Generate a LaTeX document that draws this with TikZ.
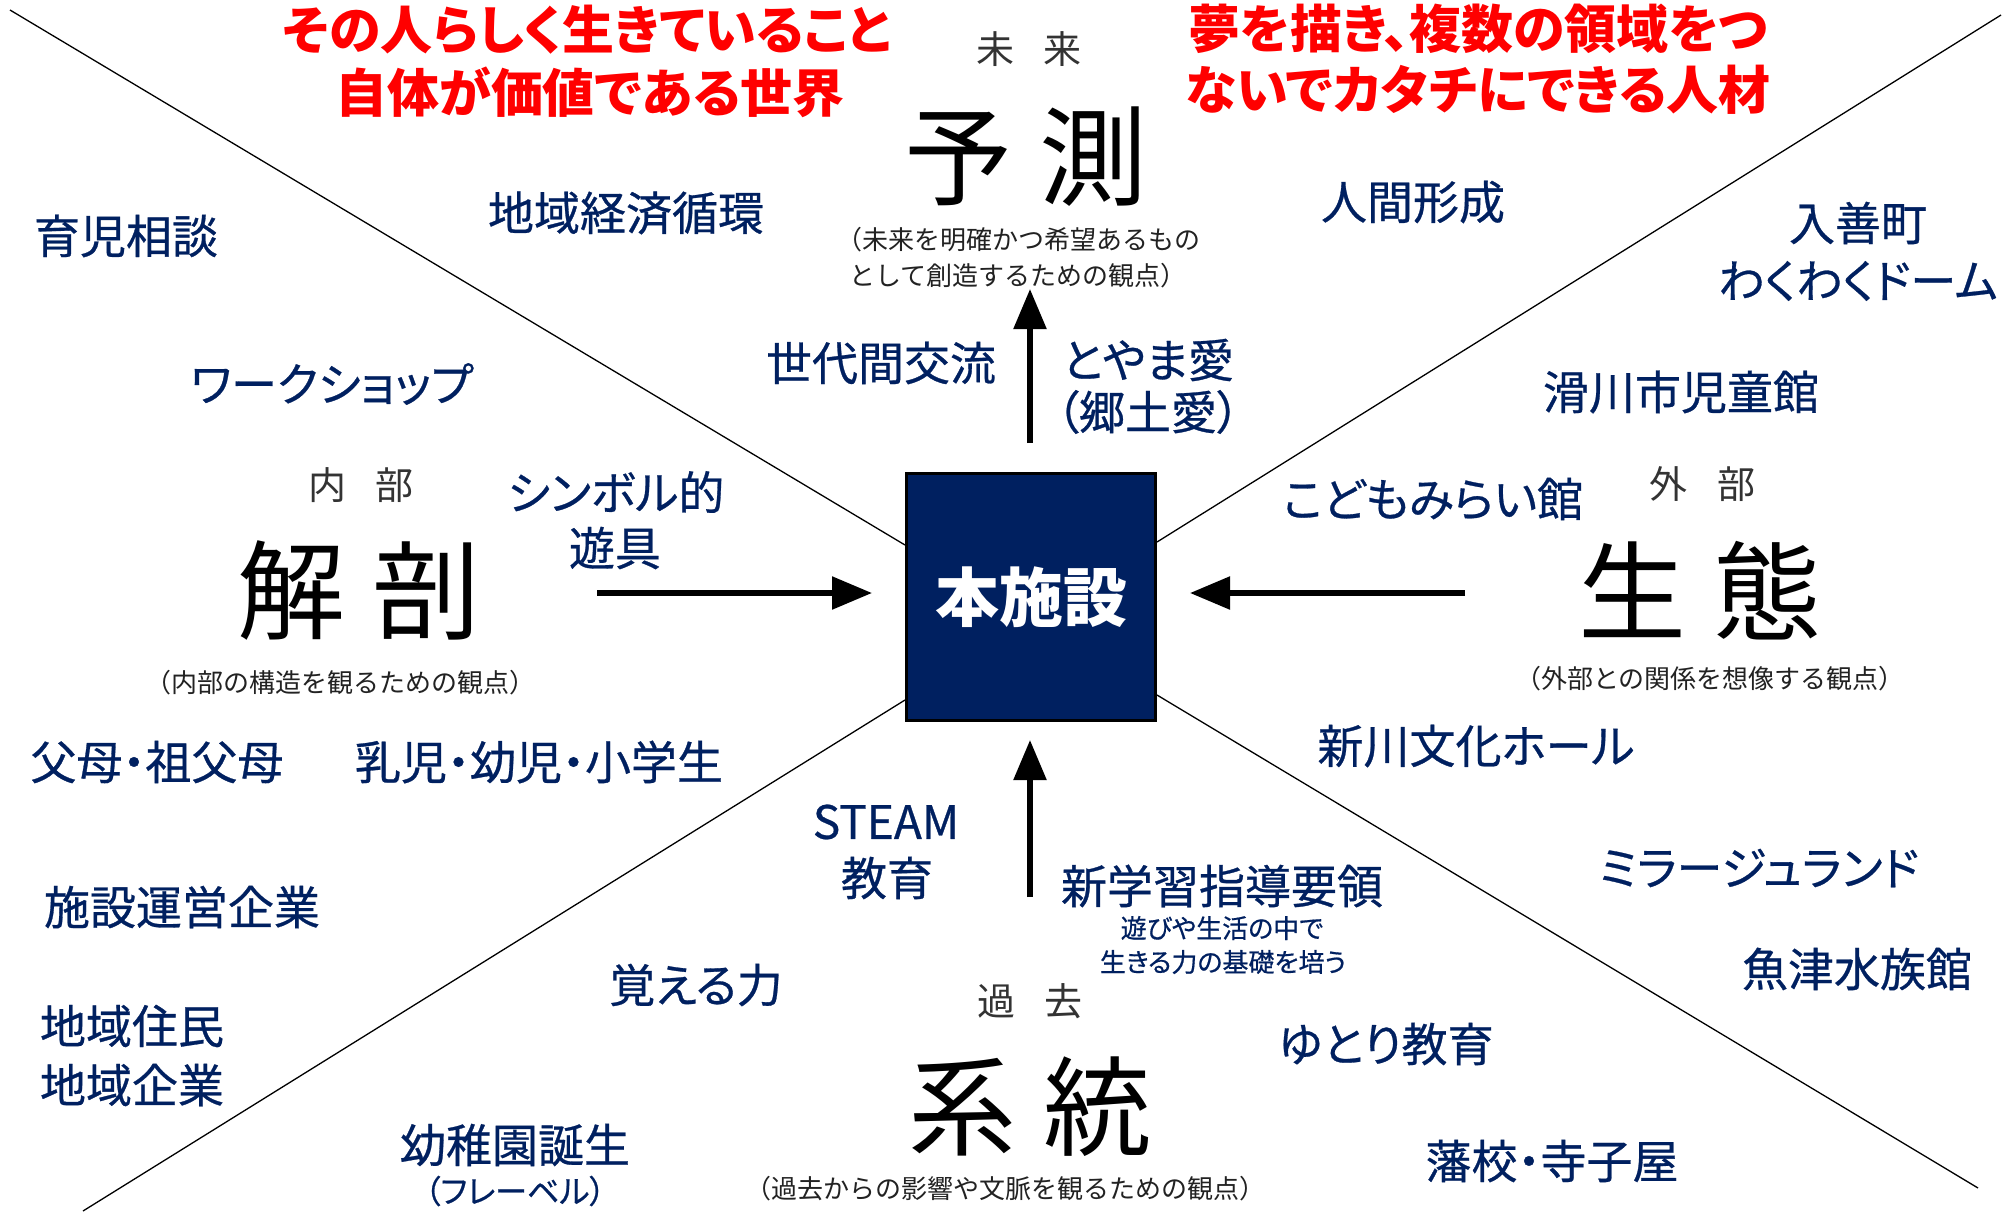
\documentclass[tikz,border=0pt]{standalone}
\usepackage{fontspec}
\newfontfamily\jp{Noto Sans CJK JP}
\newfontfamily\jpp[RawFeature=+palt]{Noto Sans CJK JP}
\newfontfamily\jpm[RawFeature=+palt, FakeBold=0.6]{Noto Sans CJK JP}
\usetikzlibrary{arrows.meta}
\definecolor{navy}{HTML}{002060}
\definecolor{hdrgray}{HTML}{333333}
\definecolor{capgray}{HTML}{222222}
\begin{document}
\begin{tikzpicture}[x=1pt,y=-1pt,
  lbl/.style={inner sep=0pt, text=navy, font=\jpm\fontsize{46}{52}\selectfont},
  smalllbl/.style={inner sep=0pt, text=navy, font=\jpm\fontsize{26}{30}\selectfont},
  redlbl/.style={inner sep=0pt, text=red, font=\jpp\bfseries\fontsize{52}{58}\selectfont},
  hdr/.style={inner sep=0pt, text=hdrgray, font=\jp\fontsize{38}{40}\selectfont},
  bigc/.style={inner sep=0pt, text=black, font=\jp\fontsize{108}{112}\selectfont},
  captxt/.style={inner sep=0pt, text=capgray, align=center, font=\jp\fontsize{26}{36}\selectfont},
  divline/.style={line width=1.3pt, black},
  arr/.style={line width=5.5pt, -{Triangle[length=40pt,width=32pt]}},
  centerbox/.style={draw=black, line width=3pt, fill=navy, minimum width=249pt, minimum height=247pt, inner sep=0pt, text=white, font=\jpp\bfseries\fontsize{64}{70}\selectfont}
]
\useasboundingbox[fill=white] (0,0) rectangle (2013,1211);

% dividing lines
\coordinate (tl) at (10,10);
\coordinate (tlb) at (905,545);
\coordinate (bl) at (83,1211);
\coordinate (blb) at (905,700);
\coordinate (tr) at (2001,15);
\coordinate (trb) at (1157,542);
\coordinate (br) at (1978,1188);
\coordinate (brb) at (1157,695);
\draw[divline] (tl) -- (tlb);
\draw[divline] (bl) -- (blb);
\draw[divline] (tr) -- (trb);
\draw[divline] (br) -- (brb);

% central box
\node[centerbox] (main) at (1031,597) {本施設};

% arrows
\coordinate (aU1) at (1030,443);
\coordinate (aU2) at (1030,289);
\coordinate (aB1) at (1030,897);
\coordinate (aB2) at (1030,740);
\coordinate (aL1) at (597,593);
\coordinate (aL2) at (872,593);
\coordinate (aR1) at (1465,593);
\coordinate (aR2) at (1190,593);
\draw[arr] (aU1) -- (aU2);
\draw[arr] (aB1) -- (aB2);
\draw[arr] (aL1) -- (aL2);
\draw[arr] (aR1) -- (aR2);

% red headlines
\node[redlbl] (r1) at (587,30) {その人らしく生きていること};
\node[redlbl] (r2) at (590,92) {自体が価値である世界};
\node[redlbl] (r3) at (1478,29) {夢を描き、複数の領域をつ};
\node[redlbl] (r4) at (1478,90) {ないでカタチにできる人材};

% perspective blocks
\node[hdr] (h1) at (1029,49) {未\hspace{30pt}来};
\node[bigc] (b1) at (1026,157) {予\hspace{28pt}測};
\node[captxt] (c1) at (1018,258) {（未来を明確かつ希望あるもの\\として創造するための観点）};

\node[hdr] (h2) at (361,485) {内\hspace{30pt}部};
\node[bigc] (b2) at (359,591) {解\hspace{28pt}剖};
\node[captxt] (c2) at (340,683) {（内部の構造を観るための観点）};

\node[hdr] (h3) at (1702,484) {外\hspace{30pt}部};
\node[bigc] (b3) at (1700,591) {生\hspace{28pt}態};
\node[captxt] (c3) at (1710,679) {（外部との関係を想像する観点）};

\node[hdr] (h4) at (1030,1001) {過\hspace{30pt}去};
\node[bigc] (b4) at (1030,1107) {系\hspace{28pt}統};
\node[captxt] (c4) at (1005,1189) {（過去からの影響や文脈を観るための観点）};

% blue labels
\node[lbl] (n1) at (626,213) {地域経済循環};
\node[lbl] (n2) at (126,236) {育児相談};
\node[lbl] (n3) at (1413,202) {人間形成};
\node[lbl] (n4) at (1858,223) {入善町};
\node[lbl] (n5) at (1858,281) {わくわくドーム};
\node[lbl] (n6) at (332,384) {ワークショップ};
\node[lbl] (n7) at (881,363) {世代間交流};
\node[lbl] (n8) at (1148,360) {とやま愛};
\node[lbl] (n9) at (1148,412) {（郷土愛）};
\node[lbl] (n10) at (1681,392) {滑川市児童館};
\node[lbl] (n11) at (616,492) {シンボル的};
\node[lbl] (n12) at (615,548) {遊具};
\node[lbl] (n13) at (1433,499) {こどもみらい館};
\node[lbl] (n14) at (157,762) {父母・祖父母};
\node[lbl] (n15) at (539,762) {乳児・幼児・小学生};
\node[lbl] (n16) at (1476,746) {新川文化ホール};
\node[lbl] (n17) at (886,822) {STEAM};
\node[lbl] (n18) at (887,878) {教育};
\node[lbl] (n19) at (1222,886) {新学習指導要領};
\node[smalllbl] (n20) at (1222,928) {遊びや生活の中で};
\node[smalllbl] (n21) at (1223,962) {生きる力の基礎を培う};
\node[lbl] (n22) at (182,907) {施設運営企業};
\node[lbl] (n23) at (1759,868) {ミラージュランド};
\node[lbl] (n24) at (696,985) {覚える力};
\node[lbl] (n25) at (1857,969) {魚津水族館};
\node[lbl] (n26) at (132,1026) {地域住民};
\node[lbl] (n27) at (132,1085) {地域企業};
\node[lbl] (n28) at (1386,1044) {ゆとり教育};
\node[lbl] (n29) at (515,1145) {幼稚園誕生};
\node[lbl, font=\jpm\fontsize{32}{36}\selectfont] (n30) at (515,1191) {（フレーベル）};
\node[lbl] (n31) at (1552,1161) {藩校・寺子屋};
\end{tikzpicture}
\end{document}
